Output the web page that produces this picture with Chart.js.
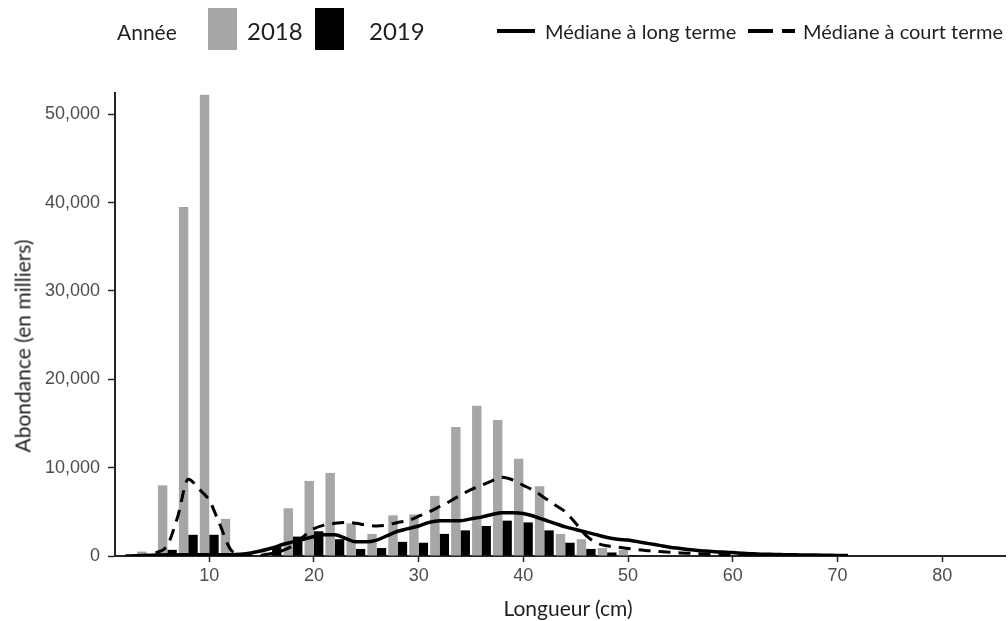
<!DOCTYPE html>
<html lang="fr">
<head>
<meta charset="utf-8">
<script src="https://cdn.jsdelivr.net/npm/chart.js@4.4.1/dist/chart.umd.min.js"></script>
<style>
  html, body { margin: 0; padding: 0; background: #fff; }
  #wrap { position: relative; width: 1008px; height: 621px; overflow: hidden; }
  #chart { position: absolute; left: 0; top: 0; }
  .txt { position: absolute; font-family: Lato, "Open Sans", sans-serif; color: #1f1f1f; white-space: nowrap; line-height: 1; }
  #legendTitle { left: 117px; top: 21px; font-size: 21px; }
  .swatch { position: absolute; }
  .lg-label { position: absolute; font-family: Lato, "Open Sans", sans-serif; color: #1f1f1f; white-space: nowrap; line-height: 1; }
  #xTitle { left: 568px; top: 597px; font-size: 21px; transform: translateX(-50%); }
  #yTitle { left: 22px; top: 346px; font-size: 21px; transform: translate(-50%, -50%) rotate(-90deg); }
</style>
</head>
<body>
<div id="wrap">
  <canvas id="chart" width="1008" height="621"></canvas>
  <div id="legend">
    <div id="legendTitle" class="txt">Année</div>
  </div>
  <div id="xTitle" class="txt">Longueur (cm)</div>
  <div id="yTitle" class="txt">Abondance (en milliers)</div>
</div>
<script>
// Length classes (cm) of the survey bars
const binsCm = [2, 4, 6, 8, 10, 12, 14, 16, 18, 20, 22, 24, 26, 28, 30, 32, 34, 36, 38, 40, 42, 44, 46, 48, 50];
// Abundance (thousands) per length class
const abundance2018 = [0, 500, 8000, 39500, 52200, 4200, 0, 400, 5400, 8500, 9400, 3700, 2500, 4600, 4700, 6800, 14600, 17000, 15400, 11000, 7900, 2500, 1900, 900, 700];
const abundance2019 = [0, 100, 700, 2400, 2400, 100, 0, 1000, 2200, 2800, 1900, 800, 900, 1600, 1500, 2500, 2900, 3400, 4000, 3800, 2900, 1500, 800, 400, 100];

// Long-term median curve
const longTermLengths = [2, 3, 4, 5, 6, 7, 8, 9, 10, 11, 12, 13, 14, 15, 16, 17, 18, 19, 20, 21, 22, 23, 24, 25, 26, 27, 28, 29, 30, 31, 32, 33, 34, 35, 36, 37, 38, 39, 40, 41, 42, 43, 44, 45, 46, 47, 48, 49, 50, 51, 52, 53, 54, 55, 56, 57, 58, 59, 60, 61, 62, 63, 64, 65, 66, 67, 68, 69, 70, 71];
const longTermMedian = [0, 20, 60, 100, 140, 150, 150, 150, 150, 150, 150, 200, 350, 600, 900, 1300, 1600, 1900, 2200, 2400, 2400, 2000, 1600, 1600, 1800, 2300, 2800, 3100, 3400, 3800, 4000, 4000, 4000, 4200, 4400, 4700, 4900, 4900, 4800, 4500, 4100, 3700, 3300, 3000, 2700, 2400, 2100, 1900, 1800, 1600, 1400, 1200, 1000, 850, 700, 600, 500, 450, 400, 300, 250, 200, 180, 150, 130, 120, 100, 80, 60, 50];

// Short-term median curve
const shortTermLengths = [3, 4, 5, 6, 7, 8, 9, 10, 11, 12, 13, 14, 15, 16, 17, 18, 19, 20, 21, 22, 23, 24, 25, 26, 27, 28, 29, 30, 31, 32, 33, 34, 35, 36, 37, 38, 39, 40, 41, 42, 43, 44, 45, 46, 47, 48, 49, 50, 51, 52, 53, 54, 55, 56, 57, 58, 59, 60, 61, 62, 63, 64];
const shortTermMedian = [0, 100, 400, 1200, 4500, 8700, 7600, 6300, 3600, 800, 100, 0, 100, 300, 600, 1200, 2200, 3100, 3500, 3700, 3800, 3700, 3500, 3400, 3500, 3800, 4000, 4500, 5000, 5600, 6200, 6900, 7500, 8000, 8500, 8900, 8600, 8000, 7400, 6600, 5800, 5000, 3700, 2300, 1500, 1150, 1000, 850, 700, 600, 500, 420, 350, 300, 250, 200, 150, 100, 80, 50, 30, 0];

// Tick values of both axes
const xTickValues = [10, 20, 30, 40, 50, 60, 70, 80];
const yTickValues = [0, 10000, 20000, 30000, 40000, 50000];

const GRAY = '#a6a6a6';
const BLACK = '#000000';
const AXIS = '#262626';

const toPoints = (xs, ys) => xs.map((x, i) => ({ x: x, y: ys[i] }));

// Legend layout slots (left edges of swatch and label)
const legendSlots = [
  { swatchLeft: 208, labelLeft: 247, kind: 'box' },
  { swatchLeft: 315, labelLeft: 369, kind: 'box' },
  { swatchLeft: 497, labelLeft: 545, kind: 'solid' },
  { swatchLeft: 748, labelLeft: 803, kind: 'dash' }
];

const htmlLegend = {
  id: 'htmlLegend',
  afterUpdate(chart) {
    const box = document.getElementById('legend');
    box.querySelectorAll('.lg').forEach(n => n.remove());
    chart.data.datasets.forEach((ds) => {
      const slot = legendSlots[ds.legendSlot];
      let sw;
      if (slot.kind === 'box') {
        sw = document.createElement('div');
        sw.style.cssText = `left:${slot.swatchLeft}px;top:8px;width:29px;height:42px;background:${ds.backgroundColor};`;
      } else {
        sw = document.createElementNS('http://www.w3.org/2000/svg', 'svg');
        sw.setAttribute('width', '48');
        sw.setAttribute('height', '10');
        sw.style.cssText = `left:${slot.swatchLeft}px;top:26px;`;
        const ln = document.createElementNS('http://www.w3.org/2000/svg', 'line');
        ln.setAttribute('x1', '0'); ln.setAttribute('x2', slot.kind === 'dash' ? '47' : '38');
        ln.setAttribute('y1', '5'); ln.setAttribute('y2', '5');
        ln.setAttribute('stroke', ds.borderColor);
        ln.setAttribute('stroke-width', '4');
        if (slot.kind === 'dash') ln.setAttribute('stroke-dasharray', '25 9');
        sw.appendChild(ln);
      }
      sw.classList.add('swatch', 'lg');
      box.appendChild(sw);
      const lab = document.createElement('div');
      lab.className = 'lg-label lg';
      lab.textContent = ds.label;
      if (slot.kind === 'box') {
        lab.style.cssText = `left:${slot.labelLeft}px;top:19px;font-size:24px;`;
      } else {
        lab.style.cssText = `left:${slot.labelLeft}px;top:21px;font-size:20px;`;
      }
      box.appendChild(lab);
    });
  }
};

const tickFont = { family: '"Liberation Sans", Arial, sans-serif', size: 18 };

new Chart(document.getElementById('chart'), {
  type: 'bar',
  data: {
    datasets: [
      {
        label: '2018', legendSlot: 0, order: 1,
        data: toPoints(binsCm, abundance2018),
        backgroundColor: GRAY, borderWidth: 0,
        categoryPercentage: 0.9, barPercentage: 1.0
      },
      {
        label: '2019', legendSlot: 1, order: 1,
        data: toPoints(binsCm, abundance2019),
        backgroundColor: BLACK, borderWidth: 0,
        categoryPercentage: 0.9, barPercentage: 1.0
      },
      {
        type: 'line', label: 'Médiane à long terme', legendSlot: 2, order: 0,
        data: toPoints(longTermLengths, longTermMedian),
        borderColor: BLACK, borderWidth: 3.5, pointRadius: 0,
        cubicInterpolationMode: 'monotone', fill: false
      },
      {
        type: 'line', label: 'Médiane à court terme', legendSlot: 3, order: 0,
        data: toPoints(shortTermLengths, shortTermMedian),
        borderColor: BLACK, borderWidth: 3, borderDash: [12, 8], pointRadius: 0,
        cubicInterpolationMode: 'monotone', fill: false
      }
    ]
  },
  options: {
    responsive: false,
    animation: false,
    devicePixelRatio: 1,
    layout: { padding: { top: 93, right: 3, left: 0, bottom: 0 } },
    plugins: { legend: { display: false }, tooltip: { enabled: false } },
    scales: {
      x: {
        type: 'linear', min: 1, max: 86, offset: false,
        grid: { display: true, drawOnChartArea: false, drawTicks: true, tickLength: 6, tickWidth: 1.5, color: AXIS, offset: false },
        border: { display: true, color: AXIS, width: 2 },
        ticks: { padding: 3, color: '#4d4d4d', font: tickFont, autoSkip: false, maxRotation: 0 },
        afterBuildTicks(s) { s.ticks = xTickValues.map(v => ({ value: v })); },
        afterFit(s) { s.height = 65; }
      },
      y: {
        type: 'linear', min: 0, max: 52400,
        grid: { display: true, drawOnChartArea: false, drawTicks: true, tickLength: 7, tickWidth: 1.5, color: AXIS },
        border: { display: true, color: AXIS, width: 2 },
        ticks: {
          padding: 8, color: '#4d4d4d', font: tickFont, autoSkip: false,
          callback: (v) => Number(v).toLocaleString('en-US')
        },
        afterBuildTicks(s) { s.ticks = yTickValues.map(v => ({ value: v })); },
        afterFit(s) { s.width = 115; }
      }
    }
  },
  plugins: [htmlLegend]
});
</script>
</body>
</html>
